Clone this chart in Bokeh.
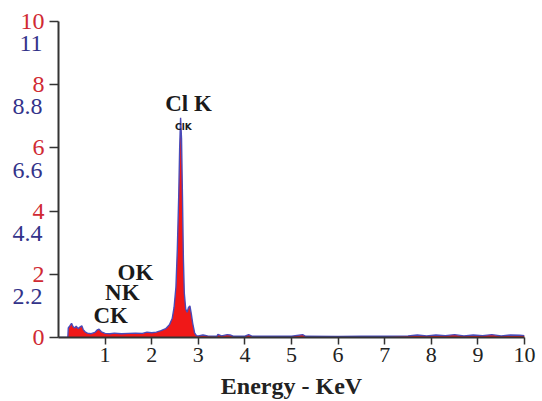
from bokeh.plotting import figure
from bokeh.models import Range1d, FixedTicker, ColumnDataSource, LinearAxis
from bokeh.core.properties import value
from bokeh.embed import file_html
from bokeh.resources import INLINE

# Spectrum (energy in keV, counts on red scale)
energy = [0.0, 0.2, 0.21, 0.25, 0.28, 0.31, 0.35, 0.38, 0.42, 0.46, 0.5, 0.53,
          0.57, 0.62, 0.7, 0.78, 0.83, 0.87, 0.92, 1.0, 1.1, 1.2, 1.35, 1.5,
          1.65, 1.8, 1.9, 2.0, 2.1, 2.2, 2.3, 2.38, 2.44, 2.48, 2.52, 2.55,
          2.58, 2.6, 2.62, 2.64, 2.66, 2.68, 2.7, 2.73, 2.76, 2.79, 2.82, 2.85,
          2.88, 2.92, 2.96, 3.0, 3.1, 3.2, 3.4, 3.42, 3.5, 3.62, 3.68, 3.75,
          4.0, 4.08, 4.15, 4.5, 5.0, 5.24, 5.3, 6.0, 6.5, 7.0, 7.5, 7.7, 7.9,
          8.1, 8.3, 8.5, 8.7, 8.9, 9.1, 9.3, 9.5, 9.7, 9.9, 10.0]
counts = [0.0, 0.0, 0.3, 0.38, 0.45, 0.35, 0.3, 0.36, 0.28, 0.33, 0.37, 0.25,
          0.18, 0.14, 0.12, 0.16, 0.24, 0.26, 0.18, 0.13, 0.12, 0.14, 0.12, 0.13,
          0.14, 0.13, 0.17, 0.15, 0.17, 0.22, 0.28, 0.4, 0.6, 0.95, 1.6, 2.8,
          4.5, 6.0, 6.95, 6.3, 4.5, 2.5, 1.4, 0.9, 0.8, 0.95, 1.0, 0.75,
          0.45, 0.15, 0.06, 0.05, 0.08, 0.05, 0.04, 0.1, 0.05, 0.09, 0.08, 0.04,
          0.04, 0.09, 0.04, 0.04, 0.04, 0.09, 0.04, 0.03, 0.04, 0.04, 0.05, 0.08, 0.05,
          0.08, 0.06, 0.09, 0.05, 0.08, 0.06, 0.09, 0.05, 0.08, 0.07, 0.06]

x_ticks = [1, 2, 3, 4, 5, 6, 7, 8, 9, 10]
y_ticks = [0, 2, 4, 6, 8, 10]
y_ticks_alt = [2, 4, 6, 8, 10]
y_labels_alt = ["2.2", "4.4", "6.6", "8.8", "11"]

peak_names = ["Cl K", "OK", "NK", "CK"]
peak_x = [2.79, 1.65, 1.37, 1.12]
peak_y = [7.4, 2.06, 1.42, 0.70]
small_name = ["ClK"]
small_x = [2.68]
small_y = [6.65]

RED = "#d02a33"
BLUE = "#33338a"
SERIF = "Liberation Serif"
ALT_SHIFT = 0.7   # second label row sits this far (in y units) below the first

p = figure(width=542, height=401, output_backend="svg", toolbar_location=None,
           x_range=Range1d(0, 10), y_range=Range1d(0, 10),
           min_border_left=58, min_border_right=18, min_border_top=21,
           min_border_bottom=64)
p.outline_line_color = None
p.grid.visible = False
p.background_fill_color = "white"
p.border_fill_color = "white"
p.extra_y_ranges = {"alt": Range1d(ALT_SHIFT, 10 + ALT_SHIFT)}

p.varea(x=energy, y1=[0] * len(energy), y2=counts, fill_color="#f01818")
p.line(x=energy, y=counts, line_color="#4a4ab8", line_width=1.4)

# axes
for ax in (p.xaxis[0], p.yaxis[0]):
    ax.axis_line_color = "#333333"
    ax.axis_line_width = 2
    ax.major_tick_line_color = "#333333"
    ax.major_tick_line_width = 1.5
    ax.minor_tick_line_color = None
    ax.major_tick_in = 0

p.xaxis.ticker = FixedTicker(ticks=x_ticks)
p.xaxis.major_tick_out = 7
p.xaxis.major_label_text_font = SERIF
p.xaxis.major_label_text_font_size = "22px"
p.xaxis.major_label_text_color = "#222222"
p.xaxis.major_label_standoff = 3
p.xaxis.axis_label = "Energy - KeV"
p.xaxis.axis_label_text_font = SERIF
p.xaxis.axis_label_text_font_size = "24px"
p.xaxis.axis_label_text_font_style = "bold"
p.xaxis.axis_label_text_color = "#222222"
p.xaxis.axis_label_standoff = 8

p.yaxis.ticker = FixedTicker(ticks=y_ticks)
p.yaxis.major_tick_out = 9
p.yaxis.major_label_text_font = SERIF
p.yaxis.major_label_text_font_size = "24px"
p.yaxis.major_label_text_color = RED
p.yaxis.major_label_standoff = 5

alt = LinearAxis(y_range_name="alt", ticker=FixedTicker(ticks=y_ticks_alt),
                 major_label_overrides={t: s for t, s in zip(y_ticks_alt, y_labels_alt)},
                 axis_line_color=None, major_tick_line_color=None,
                 minor_tick_line_color=None, major_tick_in=0, major_tick_out=0,
                 major_label_text_font=SERIF, major_label_text_font_size="24px",
                 major_label_text_color=BLUE, major_label_standoff=-25)
p.add_layout(alt, "left")

pk_src = ColumnDataSource(dict(x=peak_x, y=peak_y, t=peak_names))
p.text(x="x", y="y", text="t", source=pk_src, text_align="center",
       text_baseline="middle", text_font=value(SERIF), text_font_size="23px",
       text_font_style="bold", text_color="#1a1a1a")
sm_src = ColumnDataSource(dict(x=small_x, y=small_y, t=small_name))
p.text(x="x", y="y", text="t", source=sm_src, text_align="center",
       text_baseline="middle", text_font=value("DejaVu Sans"), text_font_size="9px",
       text_font_style="bold", text_color="#1a1a1a")

open("out.html", "w").write(file_html(p, INLINE))
